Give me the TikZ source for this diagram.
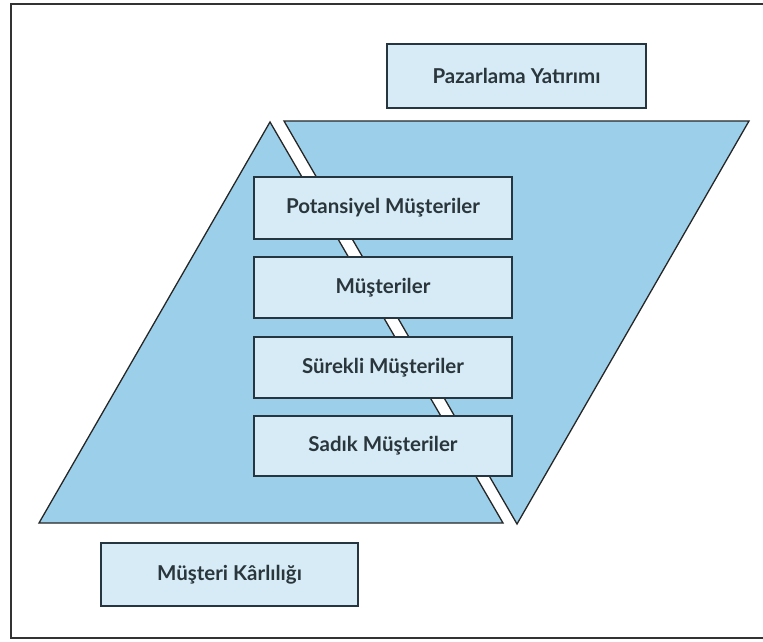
\documentclass[tikz,border=0pt]{standalone}
\usepackage{fontspec}
\setmainfont{Lato}
\begin{document}
\begin{tikzpicture}[x=1pt,y=-1pt,
  funnelpart/.style={fill=funnelblue,draw=black!85,line width=1.3pt,line join=miter},
  stagebox/.style={draw=boxline,fill=boxfill,line width=1.8pt,rectangle,
    inner sep=0pt,text=labeltext,font=\bfseries\fontsize{20.5}{22}\selectfont},
  frameline/.style={draw=black!80,line width=1.6pt}]
\definecolor{funnelblue}{HTML}{9CD0EA}
\definecolor{boxfill}{HTML}{D6EBF6}
\definecolor{boxline}{HTML}{263640}
\definecolor{labeltext}{HTML}{2A363C}
\useasboundingbox (0,0) rectangle (763,642);
\fill[white] (0,0) rectangle (763,642);

% outer frame (open to the right)
\coordinate (fr1) at (770,4);
\coordinate (fr2) at (11,4);
\coordinate (fr3) at (11,638);
\coordinate (fr4) at (770,638);
\draw[frameline] (fr1) -- (fr2) -- (fr3) -- (fr4);

% the two halves of the funnel, split by a thin white gap
\coordinate (la) at (270,122);
\coordinate (lb) at (39,523);
\coordinate (lc) at (503,523);
\coordinate (ra) at (284,121);
\coordinate (rb) at (749,121);
\coordinate (rc) at (517,524);
\draw[funnelpart] (la) -- (lb) -- (lc) -- cycle;
\draw[funnelpart] (ra) -- (rb) -- (rc) -- cycle;

% stage boxes
\node[stagebox,minimum width=259pt,minimum height=64pt] (invest) at (516.5,76) {Pazarlama Yatırımı};
\node[stagebox,minimum width=258pt,minimum height=62pt] (pot) at (383,208) {Potansiyel Müşteriler};
\node[stagebox,minimum width=258pt,minimum height=61pt] (cust) at (383,287.5) {Müşteriler};
\node[stagebox,minimum width=258pt,minimum height=61pt] (cont) at (383,367.5) {Sürekli Müşteriler};
\node[stagebox,minimum width=258pt,minimum height=60pt] (loyal) at (383,446) {Sadık Müşteriler};
\node[stagebox,minimum width=257pt,minimum height=63pt] (profit) at (229.5,574.5) {Müşteri Kârlılığı};
\end{tikzpicture}
\end{document}
